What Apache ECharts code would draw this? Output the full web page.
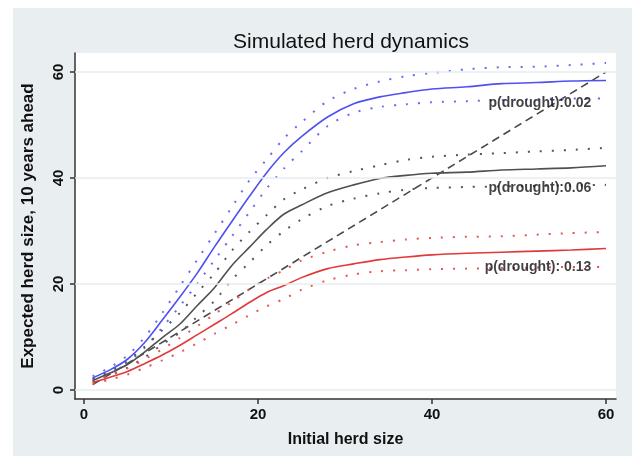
<!DOCTYPE html>
<html>
<head>
<meta charset="utf-8">
<script src="https://cdn.jsdelivr.net/npm/echarts@6/dist/echarts.min.js"></script>
<style>
  html, body { margin: 0; padding: 0; background: #fff; }
  #main { width: 637px; height: 456px; }
</style>
</head>
<body>
<div id="main"></div>
<script>
// initial herd size
const herdX = [1, 3, 5, 7, 9, 11, 13, 15, 17, 19, 21, 23, 25, 28, 31, 34, 37, 40, 44, 48, 52, 56, 60]
// p(drought) 0.02
const blueMid = [2.3, 3.8, 5.8, 9, 13.2, 17.5, 22, 27, 31.8, 36.5, 41, 44.8, 47.8, 51.5, 54, 55.3, 56.1, 56.8, 57.2, 57.8, 58, 58.3, 58.4]
const blueHi = [2.6, 4.3, 6.5, 10, 14.5, 19.5, 24.5, 29.5, 34.5, 39.5, 43.5, 47.5, 50.5, 54.5, 56.8, 58.2, 59.2, 59.8, 60.5, 60.9, 61, 61.3, 61.7]
const blueLo = [2, 3.3, 5.2, 8, 11.8, 15.8, 20, 24.5, 29, 33.5, 38, 41.8, 45, 49.8, 52.3, 53.4, 53.9, 54.3, 54.5, 54.7, 54.9, 55, 55]
// p(drought) 0.06
const grayMid = [1.8, 3.2, 4.8, 7.2, 9.9, 12.4, 15.9, 19.3, 23.5, 26.9, 30.3, 33.2, 34.9, 37.2, 38.7, 39.9, 40.5, 40.9, 41.1, 41.5, 41.7, 41.9, 42.3]
const grayHi = [2.1, 3.6, 5.5, 8.2, 11.3, 14.5, 18.3, 22, 26.3, 29.8, 33, 36, 37.8, 40, 41.3, 42.4, 43.4, 44, 44.4, 44.7, 45, 45.3, 45.7]
const grayLo = [1.5, 2.8, 4.2, 6.2, 8.6, 10.8, 13.8, 16.8, 20.8, 24, 27.3, 30, 32.2, 34.7, 36.1, 37.1, 37.8, 38.1, 38.3, 38.4, 38.5, 38.6, 38.7]
// p(drought) 0.13
const redMid = [1.4, 2.4, 3.5, 5, 6.6, 8.4, 10.4, 12.4, 14.4, 16.5, 18.4, 19.7, 21.2, 22.9, 23.8, 24.6, 25.1, 25.5, 25.8, 26, 26.2, 26.4, 26.7]
const redHi = [1.7, 2.8, 4.1, 5.8, 7.7, 9.8, 12, 14.3, 16.6, 19, 21, 22.6, 24.4, 26.1, 27.3, 27.9, 28.4, 28.7, 28.9, 29, 29.3, 29.6, 29.8]
const redLo = [1.1, 2, 2.9, 4.2, 5.6, 7.1, 8.8, 10.6, 12.3, 14.1, 15.8, 17.2, 18.9, 20.7, 21.8, 22.4, 22.6, 22.8, 22.9, 23, 23.1, 23.2, 23.2]
// 45 degree reference line
const diagX = [1, 60]
const diagY = [1, 60]
// curve labels
const labelText = ['p(drought):0.02', 'p(drought):0.06', 'p(drought): 0.13']
const labelX = [58.3, 58.3, 58.3]
const labelY = [54.2, 38.1, 23.2]
const tickValues = [0, 20, 40, 60]

const font = "'Liberation Sans', Arial, sans-serif"
const pairs = (xs, ys) => xs.map((x, i) => [x, ys[i]])

const solid = (data, color) => ({
  type: 'line',
  data: pairs(herdX, data),
  smooth: 0.3,
  symbol: 'none',
  silent: true,
  z: 4,
  lineStyle: { color: color, width: 1.6 }
})
const dotted = (data, color) => ({
  type: 'line',
  data: pairs(herdX, data),
  smooth: 0.3,
  symbol: 'none',
  silent: true,
  z: 3,
  lineStyle: { color: color, width: 2, type: [2, 10] }
})

const chart = echarts.init(document.getElementById('main'))
const option = {
  animation: false,
  backgroundColor: '#fff',
  graphic: [{
    type: 'rect',
    z: -10,
    shape: { x: 13, y: 8, width: 619, height: 448 },
    style: { fill: '#e9eef1' }
  }],
  title: {
    text: 'Simulated herd dynamics',
    left: 346,
    textAlign: 'center',
    top: 27,
    textStyle: { fontFamily: font, fontSize: 21, fontWeight: 'normal', color: '#111' }
  },
  grid: {
    left: 75,
    right: 21,
    top: 53,
    bottom: 57,
    show: true,
    backgroundColor: '#fff',
    borderWidth: 0
  },
  xAxis: {
    type: 'value',
    min: -1.03,
    max: 61.15,
    name: 'Initial herd size',
    nameLocation: 'middle',
    nameGap: 33,
    nameTextStyle: { fontFamily: font, fontSize: 16, fontWeight: 'bold', color: '#111' },
    axisLine: { show: true, onZero: false, lineStyle: { color: '#333', width: 1.5 } },
    axisTick: { show: true, length: 5, customValues: tickValues, lineStyle: { color: '#333', width: 1.5 } },
    axisLabel: { customValues: tickValues, margin: 8, fontFamily: font, fontSize: 15, fontWeight: 'bold', color: '#111' },
    splitLine: { show: false }
  },
  yAxis: {
    type: 'value',
    min: -1.7,
    max: 63.58,
    name: 'Expected herd size, 10 years ahead',
    nameLocation: 'middle',
    nameGap: 38,
    nameTextStyle: { fontFamily: font, fontSize: 17, fontWeight: 'bold', color: '#111' },
    axisLine: { show: true, onZero: false, lineStyle: { color: '#333', width: 1.5 } },
    axisTick: { show: true, length: 5, customValues: tickValues, lineStyle: { color: '#333', width: 1.5 } },
    axisLabel: { customValues: tickValues, rotate: 90, margin: 9, fontFamily: font, fontSize: 15, fontWeight: 'bold', color: '#111' },
    splitLine: { show: false }
  },
  series: [
    {
      type: 'line',
      data: [],
      silent: true,
      markLine: {
        silent: true,
        symbol: 'none',
        label: { show: false },
        lineStyle: { color: '#e6eef0', width: 1.5, type: 'solid' },
        data: tickValues.map(v => ({ yAxis: v }))
      }
    },
    {
      type: 'line',
      data: pairs(diagX, diagY),
      symbol: 'none',
      silent: true,
      z: 2,
      lineStyle: { color: '#4a4a4a', width: 1.6, type: [8, 5] }
    },
    dotted(blueHi, '#6a6af5'),
    dotted(blueLo, '#6a6af5'),
    dotted(grayHi, '#555'),
    dotted(grayLo, '#555'),
    dotted(redHi, '#e85555'),
    dotted(redLo, '#e85555'),
    solid(blueMid, '#5050f0'),
    solid(grayMid, '#505050'),
    solid(redMid, '#e03a3a'),
    {
      type: 'scatter',
      data: labelX.map((x, i) => [x, labelY[i], labelText[i]]),
      symbolSize: 0,
      silent: true,
      z: 6,
      label: {
        show: true,
        position: 'left',
        distance: 0,
        formatter: p => p.data[2],
        fontFamily: font,
        fontSize: 14,
        fontWeight: 'bold',
        color: '#111'
      }
    }
  ]
}
chart.setOption(option)
</script>
</body>
</html>
